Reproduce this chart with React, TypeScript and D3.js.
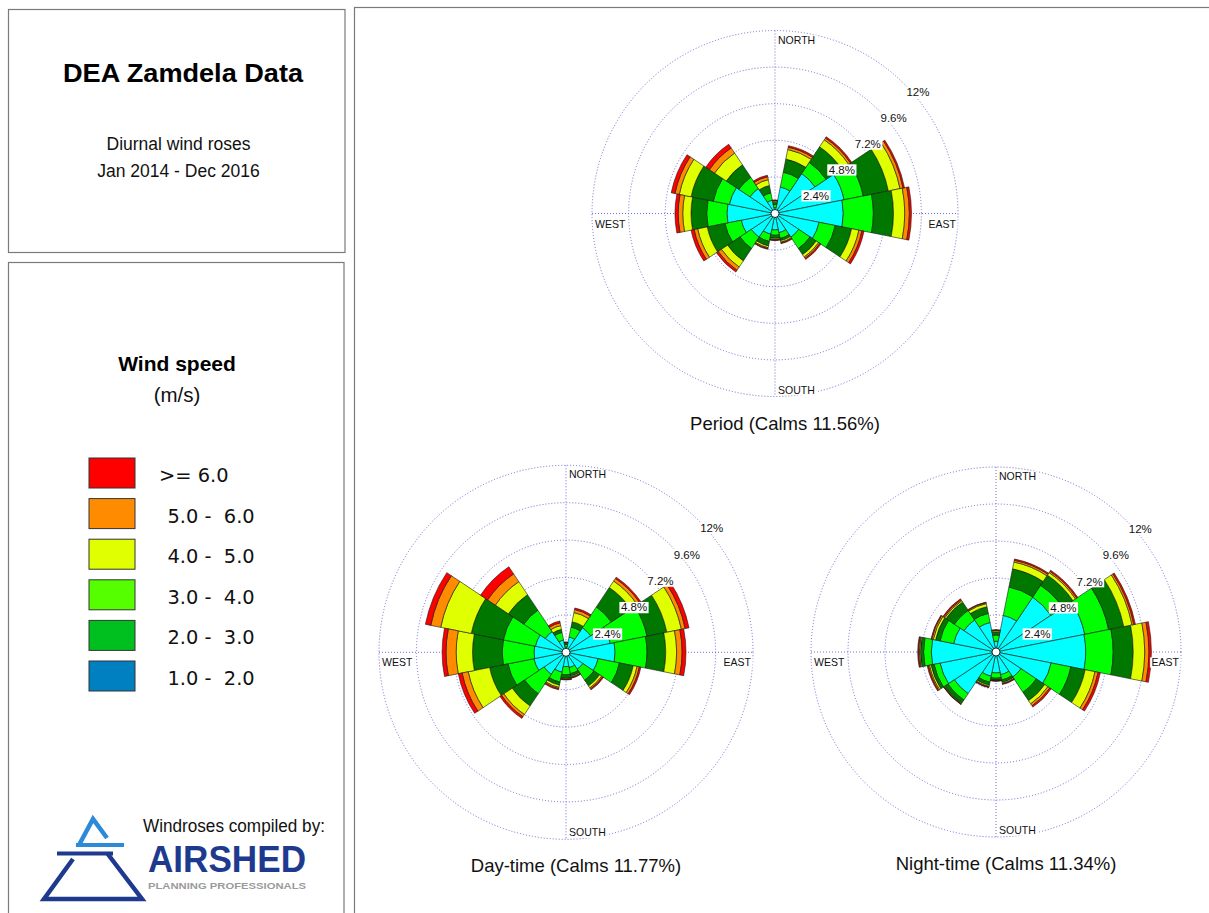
import React from "react";
import * as d3 from "d3";

// ---------- data ----------
const directions = ["N", "NNE", "NE", "ENE", "E", "ESE", "SE", "SSE", "S", "SSW", "SW", "WSW", "W", "WNW", "NW", "NNW"];
const speedBins = ["1.0 -  2.0", "2.0 -  3.0", "3.0 -  4.0", "4.0 -  5.0", "5.0 -  6.0", ">= 6.0"];
const legendColors = ["#0080C0", "#00C020", "#55FF00", "#E0FF00", "#FF8C00", "#FF0000"];
const roseColors = ["#00FFFF", "#00FF00", "#007800", "#E0FF00", "#FF8C00", "#FF0000"];
const ringTicks = [2.4, 4.8, 7.2, 9.6, 12];
const ringLabels = ["2.4%", "4.8%", "7.2%", "9.6%", "12%"];
const roseNames = ["Period", "Day-time", "Night-time"];
const calms = [11.56, 11.77, 11.34];

// frequency (%) per direction, per speed bin (lowest bin first)
const periodFreq = [
  [0.39, 0.20, 0.15, 0.08, 0.04, 0.03],
  [1.77, 0.99, 0.88, 0.64, 0.15, 0.10],
  [3.15, 0.88, 1.23, 0.55, 0.14, 0.10],
  [4.62, 1.28, 1.68, 0.78, 0.20, 0.10],
  [4.48, 1.97, 1.32, 0.74, 0.30, 0.14],
  [2.95, 1.08, 1.09, 0.49, 0.20, 0.14],
  [1.87, 0.89, 0.49, 0.19, 0.10, 0.08],
  [1.28, 0.39, 0.15, 0.10, 0.05, 0.05],
  [1.08, 0.35, 0.20, 0.07, 0.04, 0.04],
  [1.38, 0.49, 0.30, 0.12, 0.06, 0.04],
  [1.87, 0.89, 0.98, 0.49, 0.25, 0.14],
  [2.26, 1.09, 1.18, 0.64, 0.24, 0.20],
  [3.15, 1.33, 1.03, 0.54, 0.30, 0.21],
  [3.05, 1.08, 1.48, 0.79, 0.29, 0.25],
  [1.97, 0.88, 0.99, 0.93, 0.40, 0.29],
  [0.89, 0.49, 0.49, 0.39, 0.20, 0.10],
];
const dayFreq = [
  [0.35, 0.15, 0.08, 0.04, 0.02, 0.02],
  [1.00, 0.65, 0.35, 0.60, 0.20, 0.10],
  [1.90, 1.60, 1.50, 0.50, 0.20, 0.10],
  [2.90, 2.40, 1.30, 0.95, 0.25, 0.25],
  [3.15, 2.05, 1.20, 0.70, 0.35, 0.25],
  [2.10, 1.40, 0.90, 0.25, 0.15, 0.10],
  [1.30, 0.85, 0.45, 0.15, 0.08, 0.07],
  [1.00, 0.40, 0.15, 0.07, 0.04, 0.04],
  [0.92, 0.53, 0.22, 0.05, 0.03, 0.03],
  [1.30, 0.65, 0.20, 0.15, 0.08, 0.07],
  [1.70, 1.50, 0.95, 0.65, 0.17, 0.13],
  [2.10, 1.70, 1.20, 1.40, 0.40, 0.25],
  [2.05, 2.05, 1.90, 1.05, 0.65, 0.25],
  [2.00, 2.10, 2.10, 2.00, 0.65, 0.35],
  [1.60, 1.65, 1.20, 1.00, 0.60, 0.55],
  [0.80, 0.50, 0.20, 0.25, 0.18, 0.12],
];
const nightFreq = [
  [0.70, 0.40, 0.20, 0.08, 0.04, 0.03],
  [2.42, 1.88, 1.20, 0.45, 0.12, 0.08],
  [4.28, 0.92, 0.80, 0.20, 0.10, 0.08],
  [5.87, 1.58, 1.00, 0.55, 0.12, 0.10],
  [5.82, 1.78, 1.30, 0.75, 0.27, 0.16],
  [3.65, 1.30, 0.95, 0.65, 0.20, 0.15],
  [1.95, 1.20, 0.65, 0.25, 0.15, 0.10],
  [1.50, 0.35, 0.15, 0.07, 0.04, 0.04],
  [1.36, 0.34, 0.12, 0.04, 0.02, 0.02],
  [1.60, 0.40, 0.20, 0.08, 0.05, 0.03],
  [3.25, 0.50, 0.25, 0.05, 0.03, 0.02],
  [3.70, 0.40, 0.20, 0.10, 0.08, 0.07],
  [4.20, 0.50, 0.20, 0.07, 0.05, 0.06],
  [2.80, 0.90, 0.30, 0.15, 0.10, 0.05],
  [2.50, 0.75, 0.65, 0.10, 0.08, 0.07],
  [1.95, 0.60, 0.45, 0.20, 0.07, 0.03],
];
const roseData = [periodFreq, dayFreq, nightFreq];

// ---------- layout ----------
const roseLayout = [
  { cx: 775, cy: 213.5, r: 183 },
  { cx: 566, cy: 652.3, r: 187 },
  { cx: 996, cy: 652, r: 185 },
];

const SANS = "'Liberation Sans', Arial, Helvetica, sans-serif";
const RING_COLOR = "#6c6cd8";

const charW: Record<string, number> = {
  ".": 0.278, "%": 0.889, N: 0.722, O: 0.778, R: 0.722, T: 0.611, H: 0.722,
  S: 0.667, U: 0.722, E: 0.667, A: 0.667, W: 0.944,
};
const textWidth = (s: string, fs: number) =>
  s.split("").reduce((acc, c) => acc + (charW[c] ?? 0.556), 0) * fs;

function LabelBox({ x, y, text, fs, anchor = "start" }: { x: number; y: number; text: string; fs: number; anchor?: string }) {
  const w = textWidth(text, fs);
  const left = anchor === "end" ? x - w : x;
  return (
    <g>
      <rect x={left - 1.5} y={y - fs * 0.82} width={w + 3} height={fs * 0.98} fill="#fff" />
      <text x={x} y={y} fontSize={fs} fontFamily={SANS} textAnchor={anchor} fill="#111">
        {text}
      </text>
    </g>
  );
}

function Rose({ idx }: { idx: number }) {
  const { cx, cy, r } = roseLayout[idx];
  const freq = roseData[idx];
  const rScale = d3.scaleLinear().domain([0, 12]).range([0, r]);
  const keys = roseColors.map((_, i) => "b" + i);
  const rows = freq.map((row) => Object.fromEntries(row.map((v, i) => ["b" + i, v])));
  const series = d3.stack<any>().keys(keys)(rows as any);
  const step = (2 * Math.PI) / directions.length;
  const arc = d3.arc<any>();
  const lfs = 11.5;
  const cfs = 10.5;
  return (
    <g transform={`translate(${cx},${cy})`}>
      {ringTicks.map((t) => (
        <circle key={t} r={rScale(t)} fill="none" stroke={RING_COLOR} strokeWidth={1} strokeDasharray="1,2" />
      ))}
      <line x1={0} y1={-r} x2={0} y2={r} stroke={RING_COLOR} strokeWidth={1} strokeDasharray="1,2" />
      <line x1={-r} y1={0} x2={r} y2={0} stroke={RING_COLOR} strokeWidth={1} strokeDasharray="1,2" />
      {series.map((s, k) =>
        s.map((d, i) => (
          <path
            key={`${k}-${i}`}
            d={
              arc({
                innerRadius: rScale(d[0]),
                outerRadius: rScale(d[1]),
                startAngle: i * step - step / 2,
                endAngle: i * step + step / 2,
              }) as string
            }
            fill={roseColors[k]}
            stroke="#151515"
            strokeWidth={0.6}
          />
        ))
      )}
      <circle r={4} fill="#fff" stroke="#000" strokeWidth={0.8} />
      <LabelBox x={3} y={-r + 13} text="NORTH" fs={cfs} />
      <LabelBox x={3} y={r - 3} text="SOUTH" fs={cfs} />
      <LabelBox x={-r + 3} y={14} text="WEST" fs={cfs} />
      <LabelBox x={r - 2} y={14} text="EAST" fs={cfs} anchor="end" />
      {ringTicks.map((t, i) => {
        const rr = rScale(t) * Math.SQRT1_2;
        return <LabelBox key={t} x={rr + 2} y={-rr + 12} text={ringLabels[i]} fs={lfs} />;
      })}
      <text x={10} y={r + 33} textAnchor="middle" fontSize={18.5} fontFamily={SANS} fill="#111">
        {`${roseNames[idx]} (Calms ${calms[idx].toFixed(2)}%)`}
      </text>
    </g>
  );
}

function Legend() {
  const top = 458;
  const stepY = 40.6;
  const order = [...speedBins.keys()].reverse();
  return (
    <g>
      <text x={177} y={371} textAnchor="middle" fontSize={21} fontWeight="bold" fontFamily={SANS} fill="#000">
        Wind speed
      </text>
      <text x={177} y={402} textAnchor="middle" fontSize={20.5} fontFamily={SANS} fill="#111">
        (m/s)
      </text>
      {order.map((b, j) => (
        <g key={b}>
          <rect x={89} y={top + j * stepY} width={46} height={30} fill={legendColors[b]} stroke="#333" strokeWidth={1} />
          <text
            x={speedBins[b].startsWith(">") ? 159 : 167.5}
            y={top + j * stepY + 24}
            fontSize={19.4}
            fontFamily="'DejaVu Sans', Verdana, sans-serif"
            fill="#111"
            style={{ whiteSpace: "pre" }}
          >
            {speedBins[b]}
          </text>
        </g>
      ))}
    </g>
  );
}

function Logo() {
  const dark = "#1E3A8F";
  const light = "#2C8AD8";
  return (
    <g>
      <text x={325} y={832} textAnchor="end" fontSize={17.5} fontFamily={SANS} fill="#111" textLength={182} lengthAdjust="spacingAndGlyphs">
        Windroses compiled by:
      </text>
      <text x={148} y={871.5} fontSize={36.5} fontWeight="bold" fontFamily={SANS} fill={dark} textLength={158} lengthAdjust="spacingAndGlyphs">
        AIRSHED
      </text>
      <text x={148} y={889} fontSize={9.5} fontWeight="bold" fontFamily={SANS} fill="#9a9a9a" textLength={158} lengthAdjust="spacingAndGlyphs">
        PLANNING PROFESSIONALS
      </text>
      <polyline points="79,845 93,819 107,838" fill="none" stroke={light} strokeWidth={4.5} strokeLinejoin="miter" />
      <line x1={76} y1={845} x2={124} y2={845} stroke={light} strokeWidth={4} />
      <line x1={57} y1={853.5} x2={113} y2={853.5} stroke={dark} strokeWidth={4} />
      <polyline points="73,859 44,899 142,899 107,853" fill="none" stroke={dark} strokeWidth={4.5} strokeLinejoin="miter" />
    </g>
  );
}

export default function App() {
  return (
    <div style={{ position: "absolute", left: 0, top: 0, width: 1209, height: 913, background: "#fff" }}>
      <svg width={1209} height={913} style={{ display: "block" }}>
        <rect x={0} y={0} width={1209} height={913} fill="#fff" />
        {/* panels */}
        <rect x={8.5} y={9.5} width={336.5} height={243} fill="none" stroke="#7a7a7a" strokeWidth={1.2} />
        <rect x={8.5} y={262.5} width={335.5} height={680} fill="none" stroke="#7a7a7a" strokeWidth={1.2} />
        <rect x={354.5} y={7.5} width={900} height={960} fill="none" stroke="#7a7a7a" strokeWidth={1.2} />
        {/* title */}
        <text x={183} y={82} textAnchor="middle" fontSize={26} fontWeight="bold" fontFamily={SANS} fill="#000" textLength={240} lengthAdjust="spacingAndGlyphs">
          DEA Zamdela Data
        </text>
        <text x={178.5} y={150} textAnchor="middle" fontSize={17.5} fontFamily={SANS} fill="#111">
          Diurnal wind roses
        </text>
        <text x={178.5} y={177} textAnchor="middle" fontSize={17.5} fontFamily={SANS} fill="#111">
          Jan 2014 - Dec 2016
        </text>
        <Legend />
        <Logo />
        {roseLayout.map((_, i) => (
          <Rose key={i} idx={i} />
        ))}
      </svg>
    </div>
  );
}
